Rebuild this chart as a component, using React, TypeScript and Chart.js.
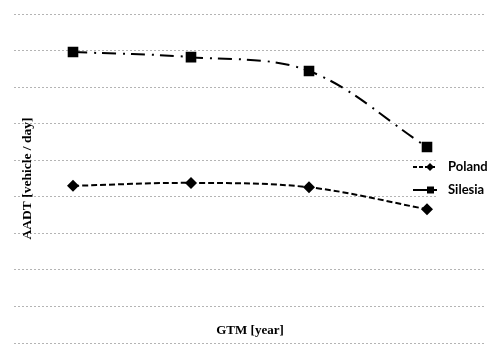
import React, { useEffect, useRef } from "react";
import { Chart, registerables } from "chart.js";

Chart.register(...registerables);

const categories = ["2015", "2020", "2025", "2030"];
const polandValues = [21500, 21900, 21300, 18300];
const silesiaValues = [39800, 39100, 37200, 26800];
const yMin = 0;
const yMax = 45000;
const yStep = 5000;
const seriesNames = ["Poland", "Silesia"];
const xTitle = "GTM [year]";
const yTitle = "AADT [vehicle / day]";

const overlayPlugin = {
  id: "overlay",
  afterDraw(chart: any) {
    const ctx = chart.ctx;
    const area = chart.chartArea;
    ctx.save();
    // legend background
    ctx.fillStyle = "#ffffff";
    ctx.fillRect(437, 154, 55, 46);
    // legend items
    const items = [
      { name: seriesNames[0], y: 167, dash: [4, 2], marker: "diamond" },
      { name: seriesNames[1], y: 190, dash: [], marker: "square" },
    ];
    items.forEach((it) => {
      ctx.strokeStyle = "#000";
      ctx.lineWidth = 2;
      ctx.setLineDash(it.dash);
      ctx.beginPath();
      ctx.moveTo(413, it.y);
      ctx.lineTo(437, it.y);
      ctx.stroke();
      ctx.setLineDash([]);
      ctx.fillStyle = "#000";
      ctx.beginPath();
      if (it.marker === "diamond") {
        ctx.moveTo(430, it.y - 4);
        ctx.lineTo(434, it.y);
        ctx.lineTo(430, it.y + 4);
        ctx.lineTo(426, it.y);
        ctx.closePath();
      } else {
        ctx.rect(427, it.y - 3.5, 7, 7);
      }
      ctx.fill();
      ctx.font = "bold 13px Lato";
      ctx.textBaseline = "middle";
      ctx.textAlign = "left";
      ctx.fillText(it.name, 448, it.y);
    });
    // axis titles
    ctx.fillStyle = "#000";
    ctx.font = "bold 13px 'Liberation Serif'";
    ctx.textAlign = "center";
    ctx.textBaseline = "alphabetic";
    ctx.fillText(xTitle, (area.left + area.right) / 2, 334);
    ctx.save();
    ctx.translate(31, (area.top + area.bottom) / 2);
    ctx.rotate(-Math.PI / 2);
    ctx.font = "bold 13.5px 'Liberation Serif'";
    ctx.fillText(yTitle, 0, 0);
    ctx.restore();
    ctx.restore();
  },
};

export default function App() {
  const ref = useRef<HTMLCanvasElement | null>(null);
  useEffect(() => {
    if (!ref.current) return;
    const chart = new Chart(ref.current, {
      type: "line",
      data: {
        labels: categories,
        datasets: [
          {
            label: seriesNames[0],
            data: polandValues,
            borderColor: "#000",
            backgroundColor: "#000",
            borderWidth: 2,
            borderDash: [6, 3],
            pointStyle: "rectRot",
            pointRadius: 6,
            pointBorderWidth: 0,
            tension: 0.35,
          },
          {
            label: seriesNames[1],
            data: silesiaValues,
            borderColor: "#000",
            backgroundColor: "#000",
            borderWidth: 2,
            borderDash: [14, 7, 2, 6],
            pointStyle: "rect",
            pointRadius: 7.5,
            pointBorderWidth: 0,
            tension: 0.35,
          },
        ],
      },
      options: {
        animation: false,
        responsive: true,
        maintainAspectRatio: false,
        layout: { padding: { left: 14, right: 14, top: 14, bottom: 15 } },
        plugins: { legend: { display: false }, tooltip: { enabled: false } },
        scales: {
          x: {
            offset: true,
            grid: { display: false },
            border: { display: false },
            ticks: { display: false },
            afterFit: (s: any) => {
              s.height = 0;
            },
          },
          y: {
            min: yMin,
            max: yMax,
            ticks: { display: false, stepSize: yStep },
            border: { display: false, dash: [2, 2] },
            grid: { color: "#b4b4b4", lineWidth: 1, drawTicks: false },
            afterFit: (s: any) => {
              s.width = 0;
            },
          },
        },
      },
      plugins: [overlayPlugin],
    });
    return () => chart.destroy();
  }, []);
  return (
    <div style={{ position: "fixed", left: 0, top: 0, width: 500, height: 358, background: "#fff" }}>
      <canvas ref={ref} />
    </div>
  );
}
